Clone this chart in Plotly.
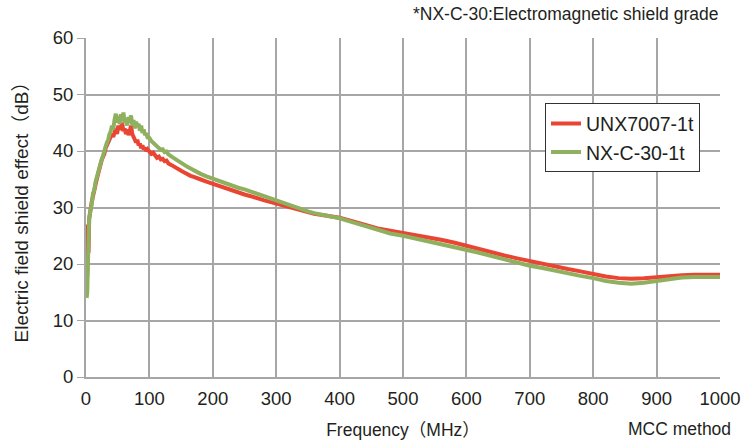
import plotly.graph_objects as go

freq_red = [1, 2, 3, 4, 5, 7, 9, 11, 13, 15, 17, 19, 21, 23, 25, 27, 29, 31, 33, 35, 37, 39, 41, 43, 45, 47, 49,
            51, 53, 55, 57, 59, 61, 63, 65, 67, 69, 71, 73, 75, 77, 79, 81, 83, 85, 87, 89, 91, 93, 95, 97,
            100, 103, 106, 109, 112, 115, 118, 121, 124, 127, 130, 135, 140, 145, 150, 155, 160, 165, 170, 175, 180,
            190, 200, 210, 220, 230, 240, 250, 260, 270, 280, 290, 300, 310, 320, 330, 340, 350, 360, 370, 380, 390,
            400, 420, 440, 460, 480, 500, 520, 540, 560, 580, 600, 620, 640, 660, 680, 700, 720, 740, 760, 780,
            800, 820, 840, 860, 880, 900, 920, 940, 960, 980, 1000]
unx7007 = [27, 18, 26, 22, 28, 30, 31, 32, 33.5, 34, 35, 36, 36.5, 37.5, 38.5, 39, 39.5, 40.5, 41, 41.5, 42, 42.5, 43, 42.5, 43.5, 44, 43,
           44.5, 43.8, 44.2, 45, 43.5, 44, 43, 43.8, 42.8, 43.5, 44.5, 43, 42.5, 42, 41.5, 42, 41, 41.3, 40.5, 41, 40.3, 40.6, 40, 40.3,
           40.0, 39.5, 39.7, 39.2, 38.8, 39.0, 38.5, 38.6, 38.2, 38.3, 37.8, 37.5, 37.1, 36.8, 36.5, 36.2, 35.8, 35.6, 35.4, 35.1, 35.0,
           34.6, 34.2, 33.8, 33.4, 33.0, 32.6, 32.3, 32.0, 31.6, 31.3, 31.0, 30.7, 30.3, 30.0, 29.7, 29.4, 29.2, 28.9, 28.7, 28.5, 28.3,
           28.2, 27.6, 26.9, 26.3, 25.9, 25.5, 25.1, 24.8, 24.3, 23.8, 23.2, 22.7, 22.1, 21.5, 21.0, 20.5, 20.1, 19.6, 19.1, 18.7,
           18.2, 17.8, 17.5, 17.4, 17.5, 17.7, 17.9, 18.0, 18.1, 18.1, 18.1]

freq_green = freq_red
nxc30 = [14, 15, 20, 26, 28, 29.5, 30.5, 32.5, 33, 34.5, 35.5, 36, 37, 37.8, 38.5, 39.5, 40, 40.8, 41.5, 42, 43, 43.5, 44.5, 43.8, 45.5, 46.6, 45,
         46.2, 44.8, 46.5, 45.3, 46.8, 45, 45.8, 44.5, 46, 45, 46.3, 44.6, 45.5, 44, 45.2, 44.3, 44.8, 43.6, 44.5, 43.2, 43.8, 42.8, 43.2, 42.4,
         42.3, 41.8, 41.5, 41.2, 40.8, 40.6, 40.2, 40.3, 39.8, 39.9, 39.4, 39.0, 38.6, 38.3, 38.0, 37.6, 37.2, 36.9, 36.6, 36.2, 36.0,
         35.5, 35.1, 34.7, 34.2, 33.9, 33.5, 33.2, 32.8, 32.4, 32.0, 31.6, 31.2, 30.8, 30.4, 30.0, 29.6, 29.3, 29.0, 28.8, 28.5, 28.3,
         28.1, 27.4, 26.7, 26.0, 25.4, 25.0, 24.5, 24.0, 23.6, 23.1, 22.5, 22.0, 21.4, 20.8, 20.2, 19.7, 19.3, 18.8, 18.3, 17.9,
         17.5, 17.0, 16.7, 16.5, 16.7, 17.0, 17.3, 17.6, 17.7, 17.7, 17.7]

x_ticks = [0, 100, 200, 300, 400, 500, 600, 700, 800, 900, 1000]
y_ticks = [0, 10, 20, 30, 40, 50, 60]

RED = "#ea4533"
GREEN = "#8fb05e"
GRID = "#a6a6a6"
TXT = "#231f20"
FONT = "Liberation Sans, Arial, Noto Sans CJK JP, sans-serif"

fig = go.Figure()
fig.add_trace(go.Scatter(x=freq_red, y=unx7007, mode="lines", name="UNX7007-1t",
                         line=dict(color=RED, width=4)))
fig.add_trace(go.Scatter(x=freq_green, y=nxc30, mode="lines", name="NX-C-30-1t",
                         line=dict(color=GREEN, width=4)))

fig.update_layout(
    width=745, height=440,
    margin=dict(l=86, r=25, t=38, b=63, autoexpand=False),
    paper_bgcolor="white", plot_bgcolor="white",
    font=dict(family=FONT, color=TXT),
    showlegend=True,
    legend=dict(x=0.724, y=0.807, xanchor="left", yanchor="top",
                bgcolor="white", bordercolor="#333333", borderwidth=1,
                font=dict(size=19.5, color=TXT), itemwidth=30,
                tracegroupgap=0),
)
fig.update_xaxes(range=[0, 1000], tickvals=x_ticks, ticktext=[str(v) for v in x_ticks],
                 showgrid=True, gridcolor=GRID, gridwidth=2,
                 showline=True, linecolor=GRID, linewidth=2,
                 ticks="", tickfont=dict(size=18.5, color=TXT), ticklabelstandoff=4,
                 zeroline=False, automargin=False,
                 title=dict(text="Frequency（MHz）", font=dict(size=17.5, color=TXT), standoff=18))
fig.update_yaxes(range=[0, 60], tickvals=y_ticks, ticktext=[str(v) for v in y_ticks],
                 showgrid=True, gridcolor=GRID, gridwidth=2,
                 showline=True, linecolor=GRID, linewidth=2,
                 ticks="outside", ticklen=7, tickcolor=GRID, tickwidth=1,
                 tickfont=dict(size=18.5, color=TXT),
                 zeroline=False, automargin=False,
                 title=dict(text="Electric field shield effect（dB）", font=dict(size=19, color=TXT), standoff=19))

fig.add_annotation(text="*NX-C-30:Electromagnetic shield grade", xref="paper", yref="paper",
                   x=1.0, y=1.0, xanchor="right", yanchor="bottom", yshift=12, showarrow=False,
                   font=dict(size=17.5, color=TXT, family="Liberation Sans Narrow, Liberation Sans, Arial"))
fig.add_annotation(text="MCC method", xref="paper", yref="paper",
                   x=1.0, y=0, xanchor="right", yanchor="middle", xshift=12, yshift=-52,
                   showarrow=False, borderpad=0,
                   font=dict(size=17.5, color=TXT))

fig.write_html("out.html", config={"displayModeBar": False},
               post_script="document.body.style.margin='0';document.body.style.padding='0';")
